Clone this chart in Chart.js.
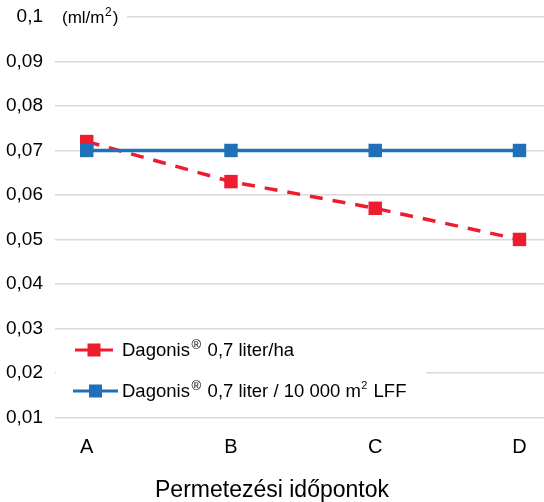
<!DOCTYPE html>
<html>
<head>
<meta charset="utf-8">
<script src="https://cdn.jsdelivr.net/npm/chart.js@4"></script>
<style>
  html, body { margin: 0; padding: 0; background: #fff; }
  #wrap { width: 544px; height: 502px; position: relative; }
</style>
</head>
<body>
<div id="wrap"><canvas id="chart"></canvas></div>
<script>
// data
var categories = ['A', 'B', 'C', 'D'];
var seriesNames = ['Dagonis® 0,7 liter/ha', 'Dagonis® 0,7 liter / 10 000 m² LFF'];
var redValues = [0.072, 0.063, 0.057, 0.050];
var blueValues = [0.070, 0.070, 0.070, 0.070];
var unitLabel = '(ml/m²)';
var xTitle = 'Permetezési időpontok';

var RED = '#ED1C2E';
var BLUE = '#1F70B8';
var FONT = "'Liberation Sans', Arial, sans-serif";

function points(values) {
    return values.map(function (v, i) { return { x: i, y: v }; });
}

// text with small raised ® / ² signs
function drawRich(ctx, text, x, y, size, supScale) {
    var parts = text.split(/([®²])/);
    parts.forEach(function (p) {
        if (p === '®' || p === '²') {
            var small = Math.round(size * (p === '®' ? 0.68 : supScale));
            ctx.font = small + 'px ' + FONT;
            var ch = p === '®' ? '®' : '2';
            x += p === '®' ? 1.5 : 0.5;
            ctx.fillText(ch, x, y - size * 0.3);
            x += ctx.measureText(ch).width + (p === '®' ? 1.5 : 1);
        } else if (p) {
            ctx.font = size + 'px ' + FONT;
            ctx.fillText(p, x, y);
            x += ctx.measureText(p).width;
        }
    });
}

var extras = {
    id: 'extras',
    afterDatasetsDraw: function (chart) {
        var ctx = chart.ctx;
        ctx.save();
        // unit label at the top gridline
        ctx.fillStyle = '#fff';
        ctx.fillRect(55, 6, 72, 22);
        ctx.fillStyle = '#000';
        ctx.textBaseline = 'middle';
        drawRich(ctx, unitLabel, 62, 18, 17, 0.72);

        // legend inside the plot
        ctx.fillStyle = '#fff';
        ctx.fillRect(56, 337, 370, 68);
        var rows = [
            { y: 350, color: RED, x0: 75, x1: 113 },
            { y: 391, color: BLUE, x0: 73, x1: 118 }
        ];
        rows.forEach(function (r, i) {
            ctx.strokeStyle = r.color;
            ctx.lineWidth = 3;
            ctx.beginPath();
            ctx.moveTo(r.x0, r.y);
            ctx.lineTo(r.x1, r.y);
            ctx.stroke();
            ctx.fillStyle = r.color;
            var c = (r.x0 + r.x1) / 2;
            ctx.fillRect(c - 6.5, r.y - 6.5, 13, 13);
            ctx.fillStyle = '#000';
            drawRich(ctx, seriesNames[i], 122, r.y + 1, 18.5, 0.58);
        });
        ctx.restore();
    }
};

new Chart(document.getElementById('chart'), {
    type: 'line',
    data: {
        datasets: [{
            label: seriesNames[0],
            data: points(redValues),
            borderColor: RED,
            backgroundColor: RED,
            borderWidth: 3.5,
            borderDash: [13, 10],
            pointStyle: 'rect',
            pointRadius: 9.5,
            pointHoverRadius: 9.5,
            pointBorderWidth: 0,
            clip: false,
            order: 2
        }, {
            label: seriesNames[1],
            data: points(blueValues),
            borderColor: BLUE,
            backgroundColor: BLUE,
            borderWidth: 3.5,
            pointStyle: 'rect',
            pointRadius: 9.5,
            pointHoverRadius: 9.5,
            pointBorderWidth: 0,
            clip: false,
            order: 1
        }]
    },
    options: {
        responsive: true,
        maintainAspectRatio: false,
        animation: false,
        layout: { autoPadding: false, padding: { top: 17, right: 0, bottom: 0, left: 0 } },
        plugins: {
            legend: { display: false },
            tooltip: { enabled: false },
            title: {
                display: true,
                position: 'bottom',
                text: xTitle,
                color: '#000',
                font: { family: FONT, size: 23, weight: 'normal' },
                padding: { top: 7, bottom: -2 }
            }
        },
        scales: {
            x: {
                type: 'linear',
                min: -0.22,
                max: 3.17,
                grid: { display: false },
                border: { display: false },
                ticks: {
                    stepSize: 1,
                    includeBounds: false,
                    autoSkip: false,
                    maxRotation: 0,
                    padding: 10,
                    color: '#000',
                    font: { family: FONT, size: 20 },
                    callback: function (v) {
                        return Number.isInteger(v) ? categories[v] : '';
                    }
                },
                afterFit: function (s) { s.paddingLeft = 0; s.paddingRight = 0; }
            },
            y: {
                min: 0.01,
                max: 0.1,
                grid: { color: '#d9d9d9', lineWidth: 1.5, drawTicks: false },
                border: { display: false },
                ticks: {
                    stepSize: 0.01,
                    padding: 12,
                    color: '#000',
                    font: { family: FONT, size: 19 },
                    callback: function (v) {
                        return String(Math.round(v * 100) / 100).replace('.', ',');
                    }
                },
                afterFit: function (s) { s.width = 55; s.paddingTop = 0; s.paddingBottom = 0; }
            }
        }
    },
    plugins: [extras]
});
</script>
</body>
</html>
